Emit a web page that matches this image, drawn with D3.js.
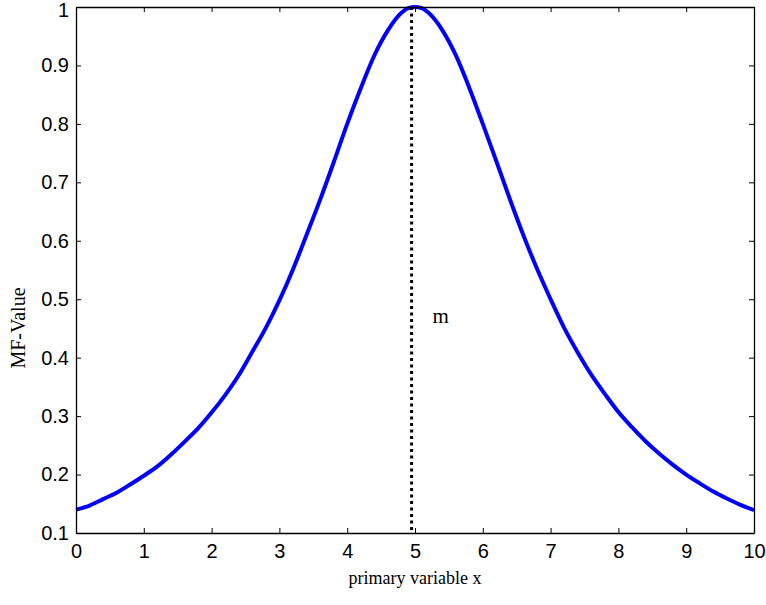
<!DOCTYPE html>
<html>
<head>
<meta charset="utf-8">
<script src="https://cdn.jsdelivr.net/npm/d3@7"></script>
<style>
  body { margin: 0; background: #fff; }
  svg { display: block; }
</style>
</head>
<body>
<svg id="chart" width="766" height="605"></svg>
<script>
// ---- data ----
const xValues = [0,0.2,0.4,0.6,0.8,1,1.2,1.4,1.6,1.8,2,2.2,2.4,2.6,2.8,3,3.2,3.4,3.6,3.8,4,4.2,4.4,4.6,4.8,4.9,5,5.1,
  5.2,5.4,5.6,5.8,6,6.2,6.4,6.6,6.8,7,7.2,7.4,7.6,7.8,8,8.2,8.4,8.6,8.8,9,9.2,9.4,9.6,9.8,10];
const mfValues = [0.140,0.147,0.158,0.169,0.183,0.198,0.214,0.234,0.256,0.279,0.306,0.336,0.370,0.410,0.451,0.498,0.551,0.610,0.670,0.734,0.800,0.861,0.917,0.960,0.990,0.998,1.000,0.998,
  0.990,0.961,0.918,0.862,0.800,0.736,0.671,0.609,0.552,0.500,0.451,0.409,0.371,0.338,0.307,0.281,0.257,0.236,0.217,0.200,0.185,0.171,0.159,0.148,0.139];
const xTicks = [0,1,2,3,4,5,6,7,8,9,10];
const yTicks = [0.1,0.2,0.3,0.4,0.5,0.6,0.7,0.8,0.9,1];
const mValue = 4.95;
const xLabel = "primary variable x";
const yLabel = "MF-Value";
const mLabel = "m";

// ---- layout ----
const svg = d3.select("#chart");
const L = 76, T = 7, R = 754, B = 533;
const x = d3.scaleLinear().domain([0, 10]).range([L, R]);
const y = d3.scaleLinear().domain([0.1, 1]).range([B, T]);

// curve
svg.append("path")
  .datum(xValues.map((v, i) => [v, mfValues[i]]))
  .attr("fill", "none")
  .attr("stroke", "#0000ff")
  .attr("stroke-width", 4)
  .attr("stroke-linejoin", "round")
  .attr("d", d3.line().curve(d3.curveMonotoneX).x(d => x(d[0])).y(d => y(d[1])));

// dotted line at m
svg.append("line")
  .attr("x1", x(mValue)).attr("x2", x(mValue))
  .attr("y1", y(1)).attr("y2", y(0.1))
  .attr("stroke", "#000").attr("stroke-width", 3)
  .attr("stroke-dasharray", "3,3.5");

svg.append("text")
  .attr("x", x(mValue) + 21).attr("y", y(0.46))
  .attr("font-family", "'Liberation Serif', 'Times New Roman', serif")
  .attr("font-size", 21)
  .text(mLabel);

// axes (ticks inward)
const tl = 5;
const fmtY = d => (d === 1 ? "1" : d3.format(".1f")(d));
svg.append("g").attr("transform", `translate(0,${B})`)
  .call(d3.axisBottom(x).tickValues(xTicks).tickSizeInner(-tl).tickSizeOuter(0).tickPadding(11).tickFormat(d3.format("d")));
svg.append("g").attr("transform", `translate(0,${T})`)
  .call(d3.axisTop(x).tickValues(xTicks).tickSizeInner(-tl).tickSizeOuter(0).tickFormat(""));
const gy = svg.append("g").attr("transform", `translate(${L},0)`)
  .call(d3.axisLeft(y).tickValues(yTicks).tickSizeInner(-tl).tickSizeOuter(0).tickPadding(7).tickFormat(fmtY));
svg.append("g").attr("transform", `translate(${R},0)`)
  .call(d3.axisRight(y).tickValues(yTicks).tickSizeInner(-tl).tickSizeOuter(0).tickFormat(""));

svg.selectAll(".domain").attr("stroke", "#000").attr("stroke-width", 1.3);
svg.selectAll(".tick line").attr("stroke", "#000").attr("stroke-width", 1);
svg.selectAll(".tick text")
  .attr("font-family", "'Liberation Sans', Arial, sans-serif")
  .attr("font-size", 20)
  .attr("fill", "#000");
// keep the top label "1" inside the picture
gy.selectAll(".tick").filter(d => d === 1).select("text").attr("dy", "0.45em");

// axis labels
svg.append("text")
  .attr("x", x(5)).attr("y", 584)
  .attr("text-anchor", "middle")
  .attr("font-family", "'Liberation Serif', 'Times New Roman', serif")
  .attr("font-size", 18)
  .text(xLabel);
svg.append("text")
  .attr("transform", `translate(25,${328}) rotate(-90)`)
  .attr("text-anchor", "middle")
  .attr("font-family", "'Liberation Serif', 'Times New Roman', serif")
  .attr("font-size", 20)
  .text(yLabel);
</script>
</body>
</html>
